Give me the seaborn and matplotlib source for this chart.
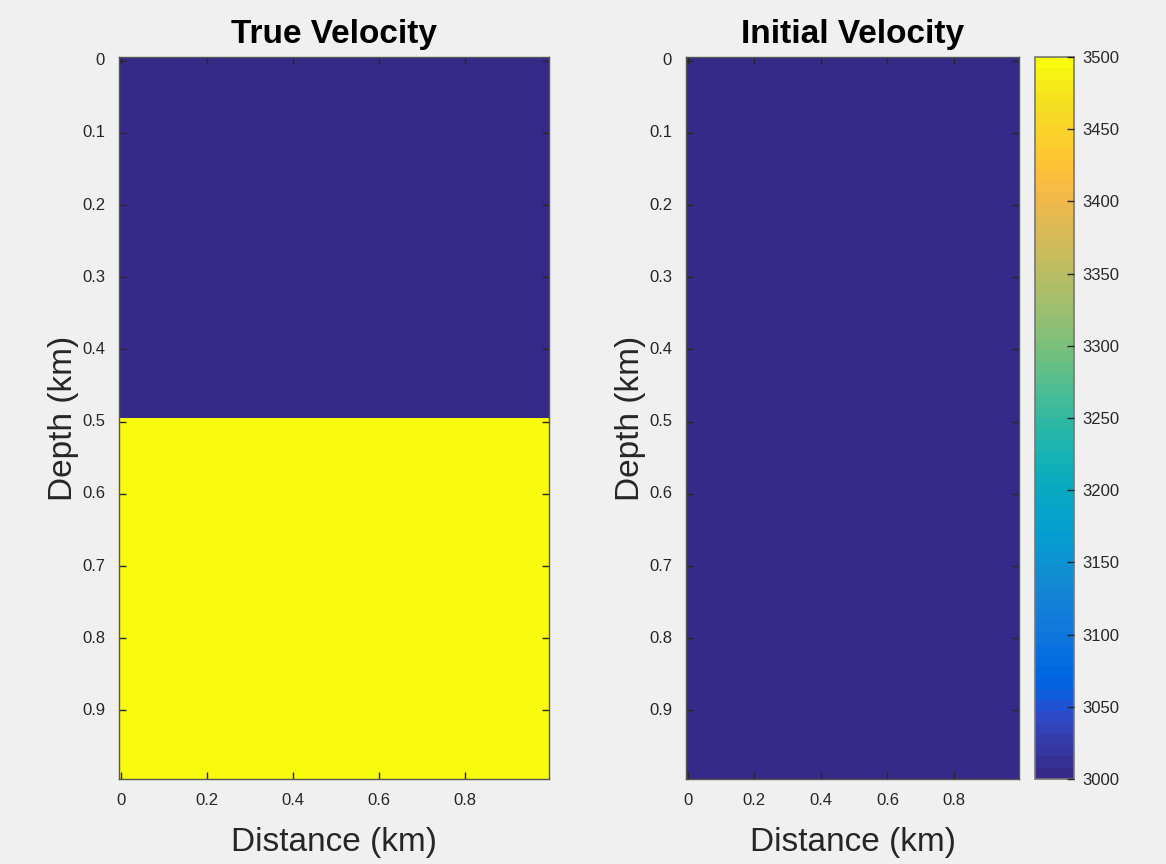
import numpy as np
import matplotlib
matplotlib.use("Agg")
import matplotlib.pyplot as plt
from matplotlib.colors import ListedColormap
import seaborn as sns

# ---- data ----
n_cells = 100                 # grid cells per axis
cell_km = 0.01                # cell size (km)
interface_depth_km = 0.5      # depth of layer boundary
true_layer_velocity = [3000, 3500]   # above / below interface (m/s)
initial_velocity = 3000
vmin, vmax = 3000, 3500
x_ticks_km = [0, 0.2, 0.4, 0.6, 0.8]
x_tick_labels = ["0", "0.2", "0.4", "0.6", "0.8"]
y_ticks_km = [0, 0.1, 0.2, 0.3, 0.4, 0.5, 0.6, 0.7, 0.8, 0.9]
y_tick_labels = ["0", "0.1", "0.2", "0.3", "0.4", "0.5", "0.6", "0.7", "0.8", "0.9"]
cbar_ticks = [3000, 3050, 3100, 3150, 3200, 3250, 3300, 3350, 3400, 3450, 3500]

# MATLAB parula (64 entries)
parula = [
    [0.2081, 0.1663, 0.5292], [0.2116, 0.1898, 0.5777], [0.2123, 0.2138, 0.6270],
    [0.2081, 0.2386, 0.6771], [0.1959, 0.2645, 0.7279], [0.1707, 0.2919, 0.7792],
    [0.1253, 0.3242, 0.8303], [0.0591, 0.3598, 0.8683], [0.0117, 0.3875, 0.8820],
    [0.0060, 0.4086, 0.8828], [0.0165, 0.4266, 0.8786], [0.0329, 0.4430, 0.8720],
    [0.0498, 0.4586, 0.8641], [0.0629, 0.4737, 0.8554], [0.0723, 0.4887, 0.8467],
    [0.0779, 0.5040, 0.8384], [0.0793, 0.5200, 0.8312], [0.0749, 0.5375, 0.8263],
    [0.0641, 0.5570, 0.8240], [0.0488, 0.5772, 0.8228], [0.0343, 0.5966, 0.8199],
    [0.0265, 0.6137, 0.8135], [0.0239, 0.6287, 0.8038], [0.0231, 0.6418, 0.7913],
    [0.0228, 0.6535, 0.7768], [0.0267, 0.6642, 0.7607], [0.0384, 0.6743, 0.7436],
    [0.0590, 0.6838, 0.7254], [0.0843, 0.6928, 0.7062], [0.1133, 0.7015, 0.6859],
    [0.1453, 0.7098, 0.6646], [0.1801, 0.7177, 0.6424], [0.2178, 0.7250, 0.6193],
    [0.2586, 0.7317, 0.5954], [0.3022, 0.7376, 0.5712], [0.3482, 0.7424, 0.5473],
    [0.3953, 0.7459, 0.5244], [0.4420, 0.7481, 0.5033], [0.4871, 0.7491, 0.4840],
    [0.5300, 0.7491, 0.4661], [0.5709, 0.7485, 0.4494], [0.6099, 0.7473, 0.4337],
    [0.6473, 0.7456, 0.4188], [0.6834, 0.7435, 0.4044], [0.7184, 0.7411, 0.3905],
    [0.7525, 0.7384, 0.3768], [0.7858, 0.7356, 0.3633], [0.8185, 0.7327, 0.3498],
    [0.8507, 0.7299, 0.3360], [0.8824, 0.7274, 0.3217], [0.9139, 0.7258, 0.3063],
    [0.9450, 0.7261, 0.2886], [0.9739, 0.7314, 0.2666], [0.9938, 0.7455, 0.2403],
    [0.9990, 0.7653, 0.2164], [0.9955, 0.7861, 0.1967], [0.9880, 0.8066, 0.1794],
    [0.9789, 0.8271, 0.1633], [0.9697, 0.8481, 0.1475], [0.9626, 0.8705, 0.1309],
    [0.9589, 0.8949, 0.1132], [0.9598, 0.9218, 0.0948], [0.9661, 0.9514, 0.0755],
    [0.9763, 0.9831, 0.0538],
]
cmap = ListedColormap(parula)

# ---- build grids ----
depth = np.arange(n_cells) * cell_km
true_col = np.where(depth < interface_depth_km - 1e-9, true_layer_velocity[0], true_layer_velocity[1])
true_v = np.tile(true_col[:, None], (1, n_cells))
init_v = np.full((n_cells, n_cells), initial_velocity)

sns.set_theme(style="white")
plt.rcParams["font.family"] = ["Liberation Sans", "DejaVu Sans"]

BG = "#f0f0f0"
TXT = "#262626"
fig = plt.figure(figsize=(11.66, 8.64), dpi=100, facecolor=BG)

W, H = 1166, 864
def pos(x0, x1, y0, y1):
    return [x0 / W, 1 - y1 / H, (x1 - x0) / W, (y1 - y0) / H]

ax1 = fig.add_axes(pos(119, 549, 57, 779))
ax2 = fig.add_axes(pos(686, 1019, 57, 779))
cax = fig.add_axes(pos(1035, 1074, 57, 779))

sns.heatmap(true_v, ax=ax1, cmap=cmap, vmin=vmin, vmax=vmax, cbar=False)
sns.heatmap(init_v, ax=ax2, cmap=cmap, vmin=vmin, vmax=vmax, cbar=True, cbar_ax=cax)

def to_idx(v):
    return v / cell_km + 0.5

for ax, title in [(ax1, "True Velocity"), (ax2, "Initial Velocity")]:
    ax.set_axisbelow(False)
    ax.set_xticks([to_idx(v) for v in x_ticks_km])
    ax.set_xticklabels(x_tick_labels, rotation=0)
    ax.set_yticks([to_idx(v) for v in y_ticks_km])
    ax.set_yticklabels(y_tick_labels, rotation=0)
    ax.set_xlim(0, n_cells)
    ax.set_ylim(n_cells, 0)
    ax.tick_params(direction="in", top=True, right=True, bottom=True, left=True,
                   labeltop=False, labelright=False, length=5, width=1,
                   color=TXT, labelcolor=TXT, labelsize=12, pad=10)
    for s in ax.spines.values():
        s.set_visible(True)
        s.set_color("#555555")
        s.set_linewidth(1)
        s.set_zorder(5)
    ax.set_title(title, fontsize=24, fontweight="bold", color="black", pad=10)
    ax.set_xlabel("Distance (km)", fontsize=24, color=TXT, labelpad=14)
    ax.set_ylabel("Depth (km)", fontsize=24, color=TXT, labelpad=2)

cb = ax2.collections[0].colorbar
cb.set_ticks(cbar_ticks)
cb.set_ticklabels([str(t) for t in cbar_ticks])
cb.outline.set_visible(True)
cb.outline.set_linewidth(1.2)
cb.outline.set_edgecolor("#777777")
cax.set_axisbelow(False)
cax.tick_params(direction="in", right=True, left=False, length=5, width=1,
                color=TXT, labelcolor=TXT, labelsize=12, pad=6)

fig.savefig("out.png", dpi=100, facecolor=BG)
